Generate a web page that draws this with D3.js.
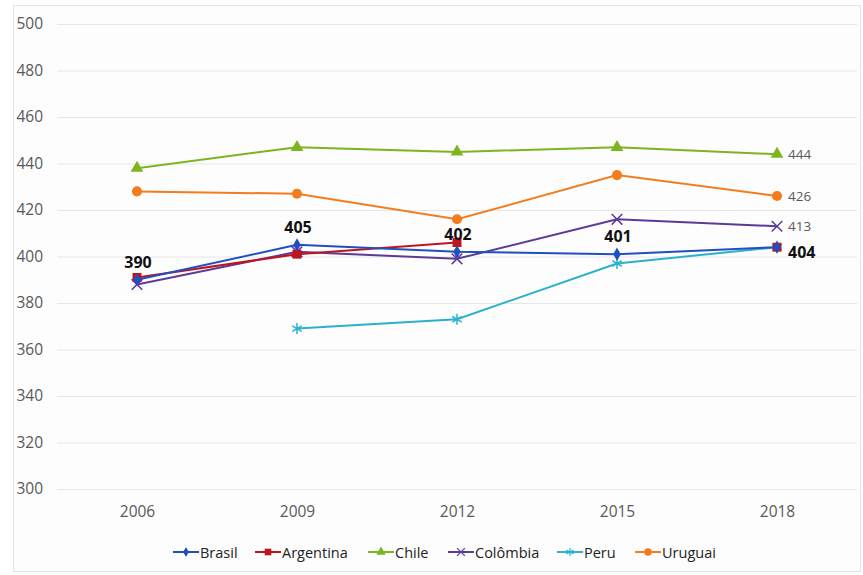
<!DOCTYPE html>
<html><head><meta charset="utf-8">
<script src="https://cdn.jsdelivr.net/npm/d3@7"></script>
<style>body{margin:0;background:#fff;}svg{display:block;font-family:"Open Sans",sans-serif;}</style>
</head><body><svg id="c" width="863" height="575"></svg>
<script>
const years = ["2006","2009","2012","2015","2018"];
const yTicks = [300,320,340,360,380,400,420,440,460,480,500];
const brasil    = [390, 405, 402, 401, 404];
const argentina = [391, 401, 406, null, 404];
const chile     = [438, 447, 445, 447, 444];
const colombia  = [388, 402, 399, 416, 413];
const peru      = [null, 369, 373, 397, 404];
const uruguai   = [428, 427, 416, 435, 426];
const seriesNames = ["Brasil","Argentina","Chile","Colômbia","Peru","Uruguai"];
const brasilLabels = [390, 405, 402, 401, 404];
const endLabels = [["Chile",444],["Uruguai",426],["Colômbia",413]];

const series = [
  {name:"Brasil", values:brasil, color:"#1f4fc1", marker:"diamond"},
  {name:"Argentina", values:argentina, color:"#c0141c", marker:"square"},
  {name:"Chile", values:chile, color:"#7cb51f", marker:"triangle"},
  {name:"Colômbia", values:colombia, color:"#5c3a97", marker:"x"},
  {name:"Peru", values:peru, color:"#2ab2cc", marker:"star"},
  {name:"Uruguai", values:uruguai, color:"#f47c1c", marker:"circle"}
];
const drawOrder = ["Uruguai","Chile","Colômbia","Peru","Argentina","Brasil"];

const svg = d3.select("#c");
svg.append("rect").attr("x",0).attr("y",0).attr("width",863).attr("height",575).attr("fill","#fff");
svg.append("rect").attr("x",13.5).attr("y",5.5).attr("width",847).attr("height",566)
  .attr("fill","#fdfdfd").attr("stroke","#e4e4e4");

const x = d3.scalePoint().domain(years).range([57,857]).padding(0.5);
const y = d3.scaleLinear().domain([300,500]).range([489,24]);

// gridlines
svg.append("g").selectAll("line").data(yTicks).join("line")
  .attr("x1",57).attr("x2",857).attr("y1",d=>y(d)+0.5).attr("y2",d=>y(d)+0.5)
  .attr("stroke","#e6e6e6").attr("stroke-width",1);

// y axis
const ya = svg.append("g").attr("transform","translate(43,0)")
  .call(d3.axisLeft(y).tickValues(yTicks).tickSize(0).tickPadding(0));
ya.select(".domain").remove();
ya.selectAll("text").attr("font-size",15.5).attr("fill","#595959").attr("font-family","Open Sans");

// x axis
const xa = svg.append("g").attr("transform","translate(0,489)")
  .call(d3.axisBottom(x).tickSize(0).tickPadding(17));
xa.select(".domain").remove();
xa.selectAll("text").attr("font-size",15.5).attr("fill","#595959").attr("font-family","Open Sans");

function markerPath(type, size){
  const m = {diamond:d3.symbolDiamond, square:d3.symbolSquare, triangle:d3.symbolTriangle,
    x:d3.symbolX, star:d3.symbolAsterisk, circle:d3.symbolCircle}[type];
  return d3.symbol().type(m).size(size)();
}
const sizes = {diamond:50, square:80, triangle:70, x:75, star:85, circle:80};

const line = d3.line().defined(d=>d.v!=null).x(d=>x(d.year)).y(d=>y(d.v));
drawOrder.forEach(n=>{
  const s = series.find(t=>t.name===n);
  const pts = years.map((yr,i)=>({year:yr, v:s.values[i]}));
  const g = svg.append("g");
  g.append("path").datum(pts).attr("d",line).attr("fill","none")
    .attr("stroke",s.color).attr("stroke-width",2);
  const stroked = s.marker==="x"||s.marker==="star";
  g.selectAll("path.m").data(pts.filter(d=>d.v!=null)).join("path").attr("class","m")
    .attr("d",markerPath(s.marker,sizes[s.marker]))
    .attr("transform",d=>`translate(${x(d.year)},${y(d.v)})`)
    .attr("fill",stroked?"none":s.color)
    .attr("stroke",stroked?s.color:"none").attr("stroke-width",1.5);
});

// Brasil labels
const bl = svg.append("g");
years.forEach((yr,i)=>{
  if(i<4){
    bl.append("text").attr("x",x(yr)+1).attr("y",y(brasil[i])-12).attr("text-anchor","middle")
      .attr("font-size",16).attr("font-weight","bold").attr("fill","#111").text(brasilLabels[i]);
  } else {
    bl.append("text").attr("x",x(yr)+11).attr("y",y(brasil[i])+11)
      .attr("font-size",16).attr("font-weight","bold").attr("fill","#111").text(brasilLabels[i]);
  }
});
// end labels
endLabels.forEach(([n,v])=>{
  svg.append("text").attr("x",x("2018")+11).attr("y",y(v)+5)
    .attr("font-size",13.5).attr("fill","#595959").text(v);
});

// legend
const legX = [173,255,368,448,557,635];
const lg = svg.append("g");
series.forEach((s,i)=>{
  const g = lg.append("g").attr("transform",`translate(${legX[i]},552)`);
  g.append("line").attr("x1",0).attr("x2",26).attr("stroke",s.color).attr("stroke-width",2);
  const stroked = s.marker==="x"||s.marker==="star";
  g.append("path").attr("d",markerPath(s.marker,sizes[s.marker]*0.55))
    .attr("transform","translate(13,0)")
    .attr("fill",stroked?"none":s.color).attr("stroke",stroked?s.color:"none").attr("stroke-width",1.2);
  g.append("text").attr("x",27).attr("y",5.5).attr("font-size",14.5).attr("fill","#222").text(s.name);
});
</script></body></html>
